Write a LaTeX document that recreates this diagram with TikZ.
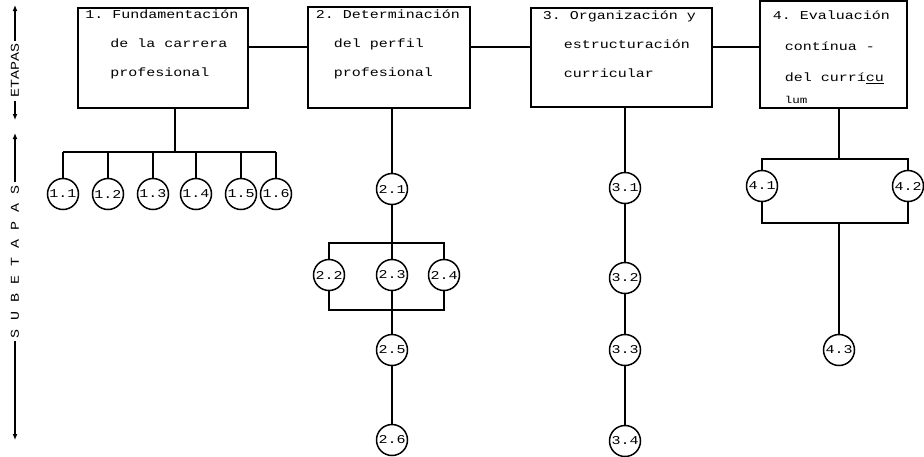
\documentclass[tikz,border=0pt]{standalone}
\usepackage{fontspec}
\newfontfamily\dotfont[FakeStretch=1.25]{Liberation Mono}
\frenchspacing
\usetikzlibrary{positioning, arrows.meta}

\begin{document}
\begin{tikzpicture}[
    x=1pt, y=-1pt, % coordinates measured from the top left corner
    % --- STYLES ---
    etapa_box/.style={draw, line width=1.6pt, anchor=north west, inner ysep=0pt,
        align=flush left, font=\dotfont\fontsize{12}{29}\selectfont},
    sub_node/.style={
        circle, draw, line width=1.5pt,
        minimum size=31pt, inner sep=0pt, outer sep=0pt,
        font=\dotfont\fontsize{12}{12}\selectfont
    },
    link/.style={line width=1.4pt},
    axis_arrow/.style={line width=1.4pt, >={Latex[length=6pt, width=5pt]}, <->},
    axis_label/.style={fill=white, rotate=90, inner sep=3pt, font=\dotfont\fontsize{12}{12}\selectfont}
]
\useasboundingbox (0,0) rectangle (924,456);

% --- LEFT AXIS ---
\coordinate (ax1_top) at (15,5);
\coordinate (ax1_bot) at (15,120);
\coordinate (ax2_top) at (15,133);
\coordinate (ax2_bot) at (15,440);
\draw[axis_arrow] (ax1_top) -- node[axis_label, pos=0.57] (lbl_etapas) {ETAPAS} (ax1_bot);
\draw[axis_arrow] (ax2_top) -- node[axis_label, pos=0.42] (lbl_subetapas) {S U B E T A P A S} (ax2_bot);

% --- ETAPAS (top row) ---
\node[etapa_box, text width=155pt, inner xsep=7.5pt, text height=11pt, text depth=89pt] (E1) at (77,7) {%
    1. Fundamentación\\\hspace*{25pt}de la carrera\\\hspace*{25pt}profesional};
\node[etapa_box, text width=146pt, inner xsep=8pt, text height=12pt, text depth=89pt] (E2) at (307,6) {%
    2. Determinación\\\hspace*{18pt}del perfil\\\hspace*{18pt}profesional};
\node[etapa_box, text width=157pt, inner xsep=12pt, text height=12pt, text depth=87pt] (E3) at (530,7) {%
    3. Organización y\\\hspace*{21pt}estructuración\\\hspace*{21pt}curricular};
\node[etapa_box, font=\dotfont\fontsize{12}{31}\selectfont,
      text width=121pt, inner xsep=13pt, text height=19pt, text depth=88pt] (E4) at (759,0) {%
    4. Evaluación\\\hspace*{12pt}contínua -\\\hspace*{12pt}del currí\underline{cu}\\[-9pt]%
    \hspace*{12pt}{\fontsize{10}{10}\selectfont lum}};

% line joining the etapas
\coordinate (etapa_y) at (0,47);
\draw[link] (E1.east |- etapa_y) -- (E2.west |- etapa_y);
\draw[link] (E2.east |- etapa_y) -- (E3.west |- etapa_y);
\draw[link] (E3.east |- etapa_y) -- (E4.west |- etapa_y);

% --- SUBETAPAS of 1 ---
\coordinate (bar1) at (175,152);
\foreach \i/\x in {1/63, 2/108, 3/153, 4/196, 5/241, 6/276}
    \node[sub_node] (s1_\i) at (\x,194) {1.\i};
\draw[link] (bar1 |- E1.south) -- (bar1);
\draw[link] (s1_1 |- bar1) -- (s1_6 |- bar1);
\foreach \i in {1,...,6}
    \draw[link] (s1_\i |- bar1) -- (s1_\i);

% --- SUBETAPAS of 2 ---
\node[sub_node] (s2_1) at (392,189) {2.1};
\node[sub_node, below=55pt of s2_1] (s2_3) {2.3};
\node[sub_node, left=32pt of s2_3] (s2_2) {2.2};
\node[sub_node, right=21pt of s2_3] (s2_4) {2.4};
\node[sub_node, below=44pt of s2_3] (s2_5) {2.5};
\node[sub_node, below=59pt of s2_5] (s2_6) {2.6};
\coordinate (bar2_top) at (0,243);
\coordinate (bar2_bot) at (0,310);
\draw[link] (s2_1 |- E2.south) -- (s2_1);
\draw[link] (s2_1) -- (s2_3);
\draw[link] (s2_2) -- (s2_2 |- bar2_top) -- (s2_4 |- bar2_top) -- (s2_4);
\draw[link] (s2_2) -- (s2_2 |- bar2_bot) -- (s2_4 |- bar2_bot) -- (s2_4);
\draw[link] (s2_3) -- (s2_5);
\draw[link] (s2_5) -- (s2_6);

% --- SUBETAPAS of 3 ---
\node[sub_node] (s3_1) at (625,188) {3.1};
\node[sub_node, below=59pt of s3_1] (s3_2) {3.2};
\node[sub_node, below=41pt of s3_2] (s3_3) {3.3};
\node[sub_node, below=60pt of s3_3] (s3_4) {3.4};
\draw[link] (s3_1 |- E3.south) -- (s3_1);
\draw[link] (s3_1) -- (s3_2);
\draw[link] (s3_2) -- (s3_3);
\draw[link] (s3_3) -- (s3_4);

% --- SUBETAPAS of 4 ---
\coordinate (bar4_top) at (839,159);
\coordinate (bar4_bot) at (839,223);
\node[sub_node] (s4_1) at (762,186) {4.1};
\node[sub_node] (s4_2) at (908,186) {4.2};
\node[sub_node] (s4_3) at (839,350) {4.3};
\draw[link] (bar4_top |- E4.south) -- (bar4_top);
\draw[link] (s4_1) -- (s4_1 |- bar4_top) -- (s4_2 |- bar4_top) -- (s4_2);
\draw[link] (s4_1) -- (s4_1 |- bar4_bot) -- (s4_2 |- bar4_bot) -- (s4_2);
\draw[link] (bar4_bot) -- (s4_3);

\end{tikzpicture}
\end{document}
